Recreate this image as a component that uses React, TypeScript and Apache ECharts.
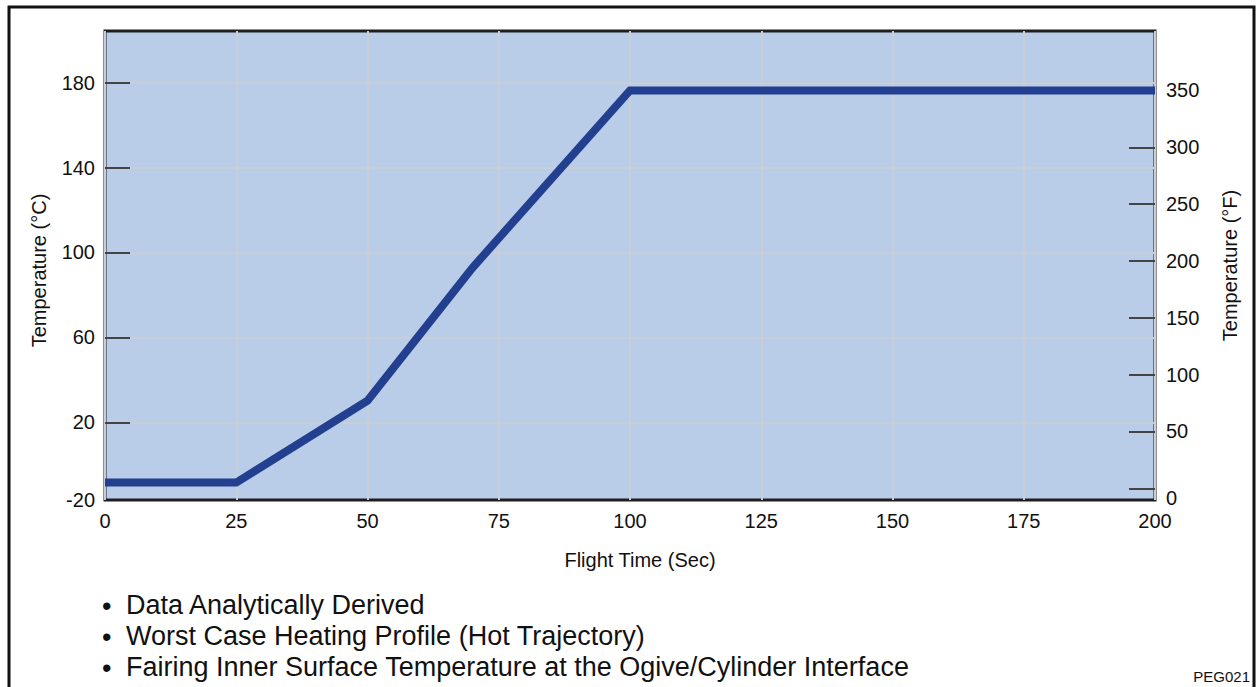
import React, { useEffect, useRef } from "react";
import * as echarts from "echarts";

// ---- data ----
const FLIGHT_TIME = [0, 25, 50, 70, 100, 200]; // sec
const TEMP_F = [5, 5, 77, 194, 350, 350]; // deg F

const X_MIN = 0;
const X_MAX = 200;
const X_INTERVAL = 25;

// left (deg C) axis: the printed scale; bottom label reads "-20"
const C_MIN = -16.6;
const C_MAX = 204.3;
const C_TICKS = [20, 60, 100, 140, 180];
const C_BOTTOM_LABEL = "-20";

// right (deg F) axis
const F_MIN = -10.3;
const F_MAX = 402.3;
const F_TICKS = [0, 50, 100, 150, 200, 250, 300, 350];

const NOTES = [
  "Data Analytically Derived",
  "Worst Case Heating Profile (Hot Trajectory)",
  "Fairing Inner Surface Temperature at the Ogive/Cylinder Interface",
];
const FIG_ID = "PEG021";

const FONT = "'Liberation Sans', Arial, Helvetica, sans-serif";
const TXT = "#111";

export default function App() {
  const ref = useRef<HTMLDivElement>(null);
  useEffect(() => {
    if (!ref.current) return;
    const chart = echarts.init(ref.current, undefined, { renderer: "svg" });

    const gridLine = { show: true, lineStyle: { color: "#c9ced6", width: 2 } };

    const noteGraphics: any[] = [];
    NOTES.forEach((t, i) => {
      const y = 607 + i * 31;
      noteGraphics.push({
        type: "text",
        left: 102,
        top: y - 15,
        style: { text: "\u2022", font: `27px ${FONT}`, fill: TXT },
      });
      noteGraphics.push({
        type: "text",
        left: 126,
        top: y - 16,
        style: { text: t, font: `27px ${FONT}`, fill: TXT },
      });
    });

    chart.setOption({
      animation: false,
      backgroundColor: "#ffffff",
      textStyle: { fontFamily: FONT },
      grid: {
        left: 105,
        right: 102,
        top: 31,
        bottom: 187,
        show: true,
        backgroundColor: "#b9cde9",
        borderColor: "#1e1e1e",
        borderWidth: 3,
        containLabel: false,
      },
      xAxis: {
        type: "value",
        min: X_MIN,
        max: X_MAX,
        interval: X_INTERVAL,
        name: "Flight Time (Sec)",
        nameLocation: "middle",
        nameGap: 50,
        nameTextStyle: {
          fontSize: 20,
          color: TXT,
          fontFamily: FONT,
          padding: [0, 0, 0, 20],
        },
        axisLine: { show: false },
        axisTick: { show: false },
        axisLabel: { fontSize: 20, color: TXT, margin: 11, fontFamily: FONT },
        splitLine: gridLine,
      },
      yAxis: [
        {
          type: "value",
          position: "left",
          min: C_MIN,
          max: C_MAX,
          name: "Temperature (\u00B0C)",
          nameLocation: "middle",
          nameGap: 56,
          nameRotate: 90,
          nameTextStyle: {
            fontSize: 20,
            color: TXT,
            fontFamily: FONT,
            padding: [0, 10, 0, 0],
          },
          axisLine: { show: false },
          axisTick: {
            show: true,
            inside: true,
            length: 25,
            lineStyle: { color: "#444", width: 2 },
            customValues: C_TICKS,
          },
          axisLabel: {
            fontSize: 20,
            color: TXT,
            margin: 10,
            fontFamily: FONT,
            customValues: [C_MIN, ...C_TICKS],
            formatter: (v: number) => (v < 0 ? C_BOTTOM_LABEL : String(v)),
          },
          splitLine: gridLine,
        },
        {
          type: "value",
          position: "right",
          min: F_MIN,
          max: F_MAX,
          name: "Temperature (\u00B0F)",
          nameLocation: "middle",
          nameGap: 65,
          nameRotate: 90,
          nameTextStyle: { fontSize: 20, color: TXT, fontFamily: FONT },
          axisLine: { show: false },
          axisTick: {
            show: true,
            inside: true,
            length: 26,
            lineStyle: { color: "#444", width: 2 },
            customValues: F_TICKS,
          },
          axisLabel: {
            fontSize: 20,
            color: TXT,
            margin: 11,
            fontFamily: FONT,
            customValues: F_TICKS,
            formatter: (v: number) => (v === 0 ? "{z|0}" : String(v)),
            rich: {
              z: { fontSize: 20, color: TXT, fontFamily: FONT, padding: [20, 0, 0, 0] },
            },
          },
          splitLine: { show: false },
        },
      ],
      graphic: [
        {
          type: "rect",
          shape: { x: 9, y: 7, width: 1245, height: 720 },
          style: { fill: "none", stroke: "#111", lineWidth: 3 },
          silent: true,
        },
        ...noteGraphics,
        {
          type: "text",
          right: 7,
          top: 669,
          style: { text: FIG_ID, font: `15px ${FONT}`, fill: TXT },
        },
      ],
      series: [
        {
          type: "line",
          yAxisIndex: 1,
          data: FLIGHT_TIME.map((t, i) => [t, TEMP_F[i]]),
          showSymbol: false,
          symbol: "none",
          lineStyle: { color: "#233f8f", width: 8, join: "miter" },
        },
      ],
    });
    return () => chart.dispose();
  }, []);
  return (
    <div
      ref={ref}
      style={{ position: "absolute", left: 0, top: 0, width: 1257, height: 687 }}
    />
  );
}
